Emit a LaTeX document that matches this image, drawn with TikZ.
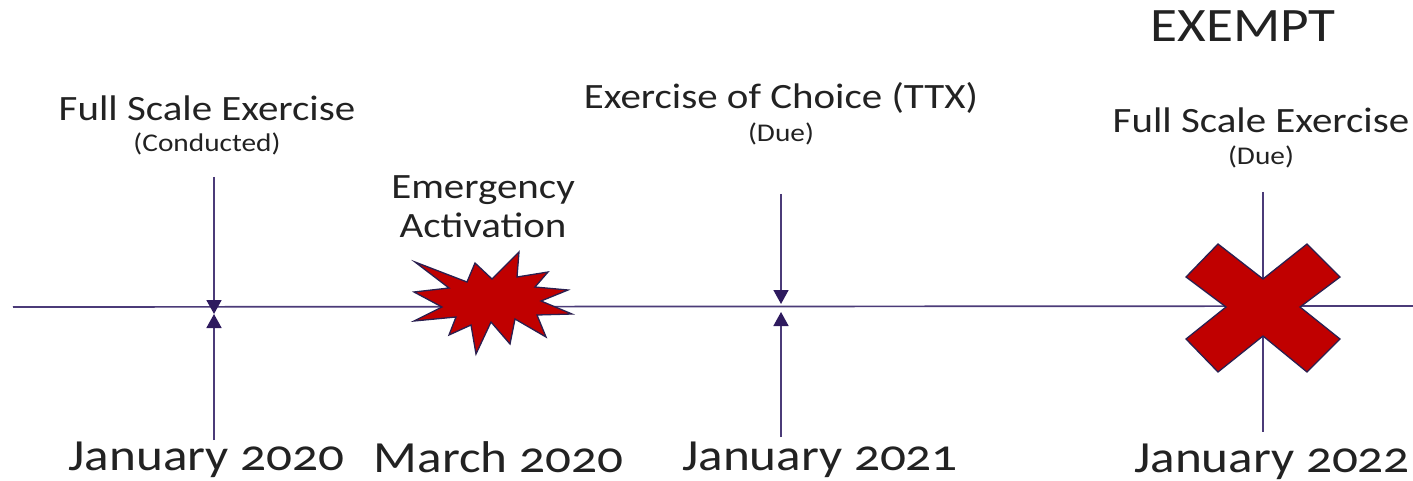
\documentclass[tikz,border=0pt]{standalone}
\usepackage{fontspec}
\setmainfont[Numbers=OldStyle,FakeStretch=1.15]{Carlito}
\usetikzlibrary{arrows.meta}
\definecolor{lineviolet}{HTML}{4B3B78}
\definecolor{tipviolet}{HTML}{2E1A5E}
\definecolor{redfill}{HTML}{C00000}
\definecolor{edgeviolet}{HTML}{2A2050}
\definecolor{inktext}{HTML}{222222}
\tikzset{
  axisline/.style={draw=lineviolet,line width=1.7pt},
  tipline/.style={axisline,-{Triangle[length=14pt,width=15pt,color=tipviolet]}},
  bigtext/.style={text=inktext,font=\fontsize{44.5}{44.5}\selectfont,inner sep=0pt,anchor=base},
  headtext/.style={text=inktext,font=\fontsize{48}{48}\selectfont,inner sep=0pt,anchor=center},
  midtext/.style={text=inktext,font=\fontsize{35.6}{39}\selectfont,inner sep=0pt,anchor=center,align=center},
  smalltext/.style={text=inktext,font=\fontsize{25.5}{26}\selectfont,inner sep=0pt,anchor=center},
  redshape/.style={fill=redfill,draw=edgeviolet,line width=1.3pt,line join=miter}
}
\begin{document}
\begin{tikzpicture}[x=1pt,y=-1pt]
\useasboundingbox (0,0) rectangle (1413,481);
\coordinate (axisL) at (13,307);
\coordinate (axisR) at (1413,306);
\coordinate (a1top) at (214,177);
\coordinate (a1mid) at (214,314);
\coordinate (a1low) at (214,314);
\coordinate (a1bot) at (214,440);
\coordinate (a2top) at (781,194);
\coordinate (a2mid) at (781,304);
\coordinate (a2low) at (781,312);
\coordinate (a2bot) at (781,437);
\coordinate (a3top) at (1263,192);
\coordinate (a3bot) at (1263,432);
\draw[axisline] (axisL) -- (axisR);
\draw[tipline] (a1top) -- (a1mid);
\draw[tipline] (a1bot) -- (a1low);
\draw[tipline] (a2top) -- (a2mid);
\draw[tipline] (a2bot) -- (a2low);
\draw[axisline] (a3top) -- (a3bot);
\fill[redshape] (415,262)--(467,282)--(475,263)--(492,279)--(519,252)--(517,277)--(548,272)--(535,287)--(568,290)--(541,301)--(572,314)--(537,315)--(546,337)--(515,319)--(510,344)--(491,322)--(476,354)--(471,325)--(449,335)--(456,317)--(414,321)--(442,307)--(414,292)--(449,288)--cycle;
\fill[redshape] (1218,244)--(1263,279)--(1307,244)--(1340,277)--(1300,307)--(1340,339)--(1307,372)--(1263,336)--(1218,372)--(1186,339)--(1226,307)--(1186,277)--cycle;
\node[midtext] (t1) at (207,108) {Full Scale Exercise};
\node[smalltext] (s1) at (207,144) {(Conducted)};
\node[midtext] (t2) at (483,207) {Emergency\\Activation};
\node[midtext] (t3) at (781,97.5) {Exercise of Choice (TTX)};
\node[smalltext] (s3) at (781,133.5) {(Due)};
\node[midtext] (t4) at (1261,120) {Full Scale Exercise};
\node[smalltext] (s4) at (1261,157) {(Due)};
\node[headtext] (t5) at (1243,26) {EXEMPT};
\node[bigtext] (d1) at (206.5,470) {January 2020};
\node[bigtext] (d2) at (498.5,472) {March 2020};
\node[bigtext] (d3) at (820,470) {January 2021};
\node[bigtext] (d4) at (1272,472) {January 2022};
\end{tikzpicture}
\end{document}
